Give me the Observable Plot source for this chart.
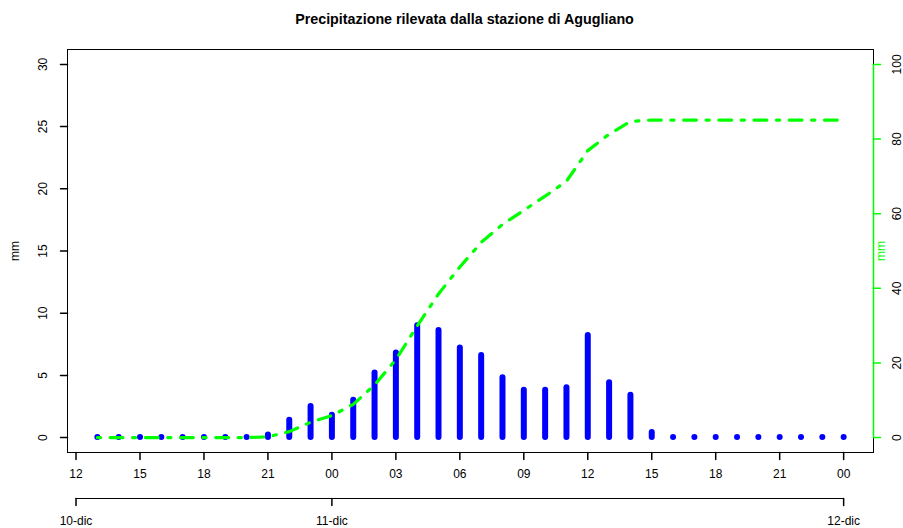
<!DOCTYPE html>
<html>
<head>
<meta charset="utf-8">
<script src="https://cdn.jsdelivr.net/npm/d3@7"></script>
<script src="https://cdn.jsdelivr.net/npm/@observablehq/plot@0.6"></script>
<style>
  html, body { margin: 0; padding: 0; background: #fff; }
  svg { display: block; }
</style>
</head>
<body>
<div id="chart"></div>
<script>
// Hours counted from 10-dic 00:00 (13 = 10-dic 13:00, 48 = 12-dic 00:00)
const hours = [13,14,15,16,17,18,19,20,21,22,23,24,25,26,27,28,29,30,31,32,33,34,35,36,37,38,39,40,41,42,43,44,45,46,47,48];
// Hourly precipitation (mm), left axis
const precip = [0,0,0,0,0,0,0,0,0.2,1.4,2.5,1.8,3.0,5.2,6.8,9.0,8.6,7.2,6.6,4.8,3.8,3.8,4.0,8.2,4.4,3.4,0.4,0,0,0,0,0,0,0,0,0];

const hourTicks = [12,15,18,21,24,27,30,33,36,39,42,45,48];
const hourTickLabels = ["12","15","18","21","00","03","06","09","12","15","18","21","00"];
const dayTicks = [12,24,48];
const dayTickLabels = ["10-dic","11-dic","12-dic"];
const leftTicks = [0,5,10,15,20,25,30];
const rightTicks = [0,20,40,60,80,100];
const leftMax = 30, rightMax = 100;
const title = "Precipitazione rilevata dalla stazione di Agugliano";
const axisTitle = "mm";

const k = leftMax / rightMax; // right axis -> left axis units
const cumul = d3.cumsum(precip);
const data = hours.map((h, i) => ({h, p: precip[i], cum: cumul[i]}));

// R-like 4% axis expansion
const xSpan = hours[hours.length - 1] - hours[0];
const xDomain = [hours[0] - 0.04 * xSpan, hours[hours.length - 1] + 0.04 * xSpan];
const yDomain = [-0.04 * leftMax, leftMax * 1.04];

const tick = { draw(context, l) { context.moveTo(0, 0); context.lineTo(0, -l); } };
const BLUE = "#0000ff", GREEN = "#00ff00";
const FONT = "'Liberation Sans', Arial, Helvetica, sans-serif";
const T = { textAnchor: "middle", lineAnchor: "middle", fontSize: 12 };

const chart = Plot.plot({
  width: 903,
  height: 528,
  marginLeft: 67,
  marginRight: 30,
  marginTop: 49,
  marginBottom: 76,
  style: { fontFamily: FONT, fontSize: "12px", background: "#fff", color: "#000" },
  x: { domain: xDomain, axis: null },
  y: { domain: yDomain, axis: null },
  marks: [
    // bars (type "h")
    Plot.ruleX(data, { x: "h", y1: 0, y2: "p", stroke: BLUE, strokeWidth: 6, strokeLinecap: "round" }),
    // cumulative line (right axis)
    Plot.line(data, { x: "h", y: d => d.cum * k, stroke: GREEN, strokeWidth: 3.2,
      strokeDasharray: "3.2,9.6,12.8,9.6", strokeLinecap: "round", strokeLinejoin: "round" }),
    Plot.frame({ stroke: "#000", strokeWidth: 1 }),
    // bottom hour axis
    Plot.vectorX(hourTicks, { length: 7, rotate: 180, anchor: "start", shape: tick, frameAnchor: "bottom", stroke: "#000" }),
    Plot.text(hourTicks, { ...T, x: d => d, text: (d, i) => hourTickLabels[i], frameAnchor: "bottom", dy: 22 }),
    // day axis
    Plot.ruleY([yDomain[0]], { x1: dayTicks[0], x2: dayTicks[dayTicks.length - 1], dy: 46, stroke: "#000" }),
    Plot.vectorX(dayTicks, { length: 7, rotate: 180, anchor: "start", shape: tick, frameAnchor: "bottom", dy: 46, stroke: "#000" }),
    Plot.text(dayTicks, { ...T, x: d => d, text: (d, i) => dayTickLabels[i], frameAnchor: "bottom", dy: 69 }),
    // left axis
    Plot.vectorY(leftTicks, { length: 7, rotate: -90, anchor: "start", shape: tick, frameAnchor: "left", stroke: "#000" }),
    Plot.text(leftTicks, { ...T, y: d => d, text: d => String(d), frameAnchor: "left", dx: -24, rotate: -90 }),
    Plot.text([axisTitle], { ...T, frameAnchor: "left", dx: -52, rotate: -90 }),
    // right axis (green)
    Plot.ruleX([xDomain[1]], { y1: rightTicks[0] * k, y2: rightTicks[rightTicks.length - 1] * k, stroke: GREEN, strokeWidth: 1.5 }),
    Plot.vectorY(rightTicks, { y: d => d * k, length: 7, rotate: 90, anchor: "start", shape: tick, frameAnchor: "right", stroke: GREEN, strokeWidth: 1.5 }),
    Plot.text(rightTicks, { ...T, y: d => d * k, text: d => String(d), frameAnchor: "right", dx: 24, rotate: -90 }),
    Plot.text([axisTitle], { ...T, frameAnchor: "right", dx: 8, rotate: -90, fill: GREEN }),
    // title
    Plot.text([title], { ...T, frameAnchor: "top", dy: -30, dx: -6, fontSize: 14.3, fontWeight: "bold" })
  ]
});
document.getElementById("chart").appendChild(chart);
</script>
</body>
</html>
